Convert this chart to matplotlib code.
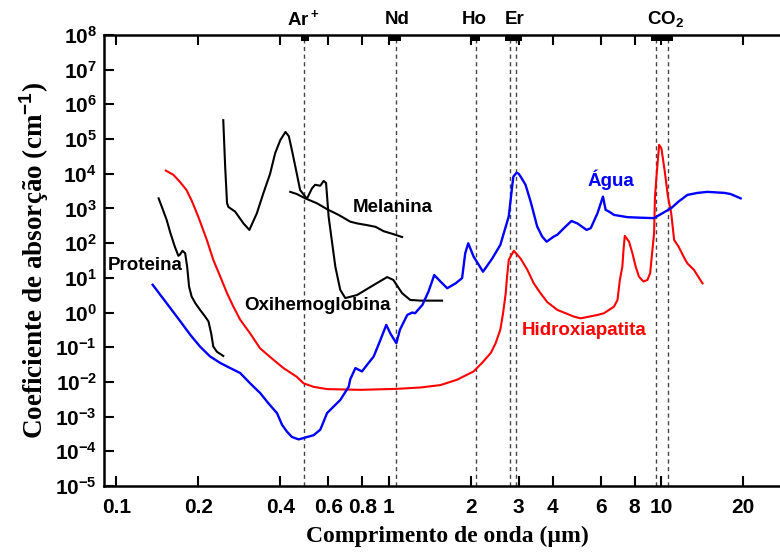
# coding: utf8
# Coeficiente de absorção de cromóforos de tecido vs comprimento de onda
import numpy as np
import matplotlib
matplotlib.use('Agg')
import matplotlib.pyplot as plt
import matplotlib.transforms as mtransforms

plt.rcParams['font.family'] = ['Liberation Sans', 'DejaVu Sans']
plt.rcParams['font.weight'] = 'bold'
plt.rcParams['mathtext.fontset'] = 'custom'
plt.rcParams['mathtext.rm'] = 'Liberation Sans:bold'
plt.rcParams['mathtext.it'] = 'Liberation Sans:bold'
plt.rcParams['mathtext.bf'] = 'Liberation Sans:bold'

# Água
agua_x = [0.136, 0.153, 0.172, 0.187, 0.203, 0.221, 0.241, 0.262, 0.285, 0.31,
          0.338, 0.362, 0.389, 0.406, 0.423, 0.441, 0.467, 0.53, 0.561, 0.594,
          0.628, 0.664, 0.713, 0.723, 0.755, 0.798, 0.833, 0.881, 0.932, 0.98,
          1.014, 1.067, 1.10, 1.17, 1.22, 1.25, 1.33, 1.40, 1.47, 1.55,
          1.64, 1.76, 1.86, 1.91, 1.96, 2.05, 2.22, 2.40, 2.57, 2.72,
          2.76, 2.84, 2.87, 2.95, 3.0, 3.05, 3.18, 3.32, 3.51, 3.66,
          3.80, 4.04, 4.16, 4.40, 4.69, 4.93, 5.33, 5.52, 5.84, 6.12,
          6.26, 6.44, 6.72, 7.52, 8.42, 9.42, 10.9, 11.6, 12.5, 13.6,
          14.8, 17.1, 18.0, 19.6]
agua_y = [6.3, 1.86, 0.55, 0.226, 0.104, 0.054, 0.035, 0.025, 0.018, 9.1e-3,
          4.7e-3, 2.4e-3, 1.26e-3, 5.8e-4, 3.7e-4, 2.6e-4, 2.2e-4, 2.9e-4, 4.2e-4, 1.26e-3,
          1.95e-3, 3.0e-3, 7.2e-3, 0.012, 0.025, 0.02, 0.031, 0.054, 0.16, 0.44,
          0.25, 0.13, 0.32, 0.85, 1.0, 0.95, 1.66, 4, 12, 7.8,
          5, 6.9, 9.8, 51, 99, 41, 15, 36, 89, 400,
          590, 4.3e3, 8.3e3, 1.07e4, 1.0e4, 8.3e3, 4.8e3, 1.58e3, 300, 155,
          110, 155, 174, 270, 435, 370, 240, 270, 720, 2190,
          910, 810, 650, 560, 540, 525, 1020, 1580, 2450, 2800,
          3000, 2800, 2600, 1950]

# Hidroxiapatita
hap_x = [0.152, 0.162, 0.171, 0.181, 0.189, 0.20, 0.215, 0.227, 0.241, 0.255,
         0.269, 0.285, 0.31, 0.337, 0.378, 0.411, 0.46, 0.487, 0.53, 0.594,
         0.787, 1.07, 1.31, 1.55, 1.78, 2.05, 2.20, 2.37, 2.47, 2.57,
         2.63, 2.69, 2.72, 2.76, 2.88, 3.05, 3.23, 3.41, 3.61, 3.82,
         4.16, 4.79, 5.07, 5.84, 6.17, 6.72, 6.92, 7.06, 7.21, 7.28,
         7.36, 7.63, 7.85, 8.07, 8.3, 8.62, 8.91, 9.12, 9.22, 9.43,
         9.5, 9.64, 9.84, 10.03, 10.3, 10.6, 10.9, 11.17, 11.6, 12.2,
         12.5, 13.2, 14.2]
hap_y = [1.23e4, 9.3e3, 5.9e3, 3.4e3, 1.7e3, 575, 123, 33, 10.7, 3.6,
         1.48, 0.62, 0.25, 0.093, 0.043, 0.025, 0.014, 9.1e-3, 7.2e-3, 6.2e-3,
         5.9e-3, 6.3e-3, 6.9e-3, 8.1e-3, 0.0115, 0.02, 0.035, 0.068, 0.13, 0.32,
         0.95, 3.6, 10.7, 33, 60, 36, 17, 6.9, 3.6, 2.0,
         1.19, 0.76, 0.68, 0.85, 0.95, 1.48, 2.3, 8.7, 21, 63,
         162, 110, 51, 21, 10.7, 7.8, 8.7, 13.5, 33, 195,
         2.2e3, 1e4, 6.8e4, 5.4e4, 1.3e4, 2.2e3, 720, 123, 79, 36,
         26, 17, 6.9]

# Proteina
prot_x = [0.143, 0.147, 0.153, 0.158, 0.164, 0.169, 0.171, 0.175, 0.179, 0.182,
          0.185, 0.189, 0.195, 0.203, 0.212, 0.218, 0.223, 0.227, 0.234, 0.247]
prot_y = [1950, 1100, 470, 195, 79, 43, 46, 60, 51, 21,
          5.6, 2.9, 1.86, 1.19, 0.76, 0.55, 0.25, 0.105, 0.074, 0.056]

# Oxihemoglobina
oxi_x = [0.247, 0.251, 0.255, 0.258, 0.273, 0.293, 0.308, 0.328, 0.347, 0.367,
         0.383, 0.40, 0.418, 0.43, 0.441, 0.46, 0.473, 0.501, 0.523, 0.537,
         0.561, 0.577, 0.589, 0.602, 0.637, 0.664, 0.693, 0.766, 0.881, 0.987,
         1.04, 1.12, 1.20, 1.31, 1.57]
oxi_y = [3.5e5, 1.6e4, 1420, 1100, 810, 370, 240, 720, 2.8e3, 1e4,
         3.9e4, 9.3e4, 1.6e5, 1.2e5, 4.9e4, 1e4, 3.4e3, 1.9e3, 3.8e3, 4.8e3,
         4.5e3, 6.2e3, 5.4e3, 570, 21, 4.5, 2.6, 3.2, 6.2, 10.5,
         8.7, 3.6, 2.3, 2.2, 2.2]

# Melanina
mel_x = [0.435, 0.46, 0.494, 0.546, 0.594, 0.655, 0.723, 0.766, 0.833, 0.894,
         0.959, 1.03, 1.12]
mel_y = [3e3, 2.6e3, 1950, 1.4e3, 950, 650, 415, 370, 330, 295,
         220, 186, 150]

# lasers
laser_nomes = ['Ar$^+$', 'Nd', 'Ho', 'Er', 'CO$_2$']
laser_pos = [0.484, 1.075, 2.07, 2.9, 10.4]
laser_linhas = [0.488, 1.064, 2.1, 2.79, 2.94, 9.6, 10.6]
laser_faixas = [(0.475, 0.51), (1.0, 1.11), (2.0, 2.17), (2.68, 3.09), (9.2, 11.1)]

xticks = [0.1, 0.2, 0.4, 0.6, 0.8, 1, 2, 3, 4, 6, 8, 10, 20]
xlabels = ['0.1', '0.2', '0.4', '0.6', '0.8', '1', '2', '3', '4', '6', '8', '10', '20']
yexp = list(range(-5, 9))

fig = plt.figure(figsize=(7.8, 5.53), dpi=100)
ax = fig.add_axes([0.1333, 0.1212, 0.8808, 0.8156])
ax.set_xscale('log')
ax.set_yscale('log')
ax.set_xlim(0.0901, 30)
ax.set_ylim(1e-5, 1e8)

for xl in laser_linhas:
    ax.axvline(xl, color='#444444', lw=1, ls=(0, (3, 2.5)), zorder=1)
for a, b in laser_faixas:
    ax.axvspan(a, b, ymin=0.986, ymax=1.0, color='black', lw=0, zorder=5)

ax.plot(prot_x, prot_y, color='black', lw=1.5)
ax.plot(oxi_x, oxi_y, color='black', lw=1.5)
ax.plot(mel_x, mel_y, color='black', lw=1.5)
ax.plot(hap_x, hap_y, color='#ff0000', lw=1.5)
ax.plot(agua_x, agua_y, color='#0000ff', lw=1.7)

ax.text(0.1276, 23.4, 'Proteina', fontsize=13.5, ha='center', va='center')
ax.text(1.032, 1030, 'Melanina', fontsize=13.5, ha='center', va='center')
ax.text(0.546, 1.55, 'Oxihemoglobina', fontsize=13.5, ha='center', va='center')
ax.text(6.53, 6.6e3, 'Água', fontsize=13.5, ha='center', va='center', color='#0000ff')
ax.text(5.24, 0.295, 'Hidroxiapatita', fontsize=13.5, ha='center', va='center', color='#ff0000')

trans = mtransforms.blended_transform_factory(ax.transData, ax.transAxes)
for nome, xp in zip(laser_nomes, laser_pos):
    ax.text(xp, 1.035, nome, fontsize=13.5, ha='center', va='center', transform=trans)

ax.xaxis.set_minor_locator(plt.NullLocator())
ax.yaxis.set_minor_locator(plt.NullLocator())
ax.set_xticks(xticks)
ax.set_xticklabels(xlabels)
ax.set_yticks([10.0 ** e for e in yexp])
ax.set_yticklabels(['$10^{%d}$' % e for e in yexp])
ax.tick_params(axis='x', which='major', direction='in', length=7, width=1.5,
               top=True, labelsize=15, pad=9)
ax.tick_params(axis='y', which='major', direction='in', length=7, width=1.5,
               labelsize=15, pad=5)
for lab in ax.get_xticklabels() + ax.get_yticklabels():
    lab.set_fontweight('bold')

for s in ['left', 'bottom', 'top']:
    ax.spines[s].set_linewidth(1.8)
ax.spines['right'].set_visible(False)

ax.set_xlabel('Comprimento de onda (µm)', family='Liberation Serif', fontweight='bold',
              fontsize=17, labelpad=6)
ax.set_ylabel('Coeficiente de absorção (cm$^{-1}$)', family='Liberation Serif',
              fontweight='bold', fontsize=19.5, labelpad=3)

fig.savefig('out.png', dpi=100)
